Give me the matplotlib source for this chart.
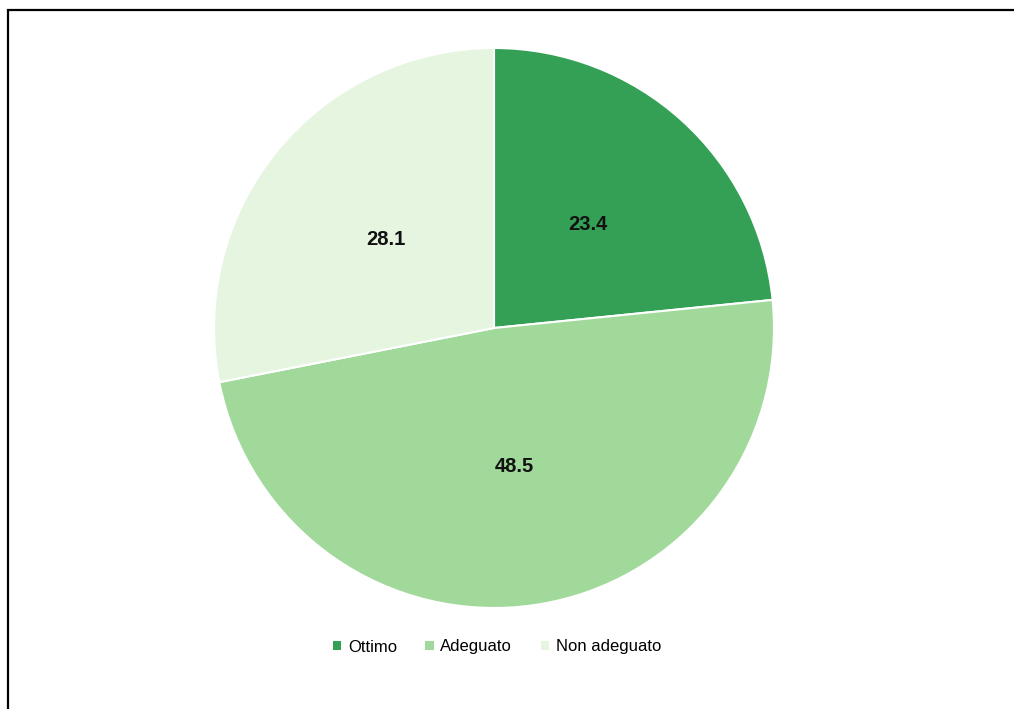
import matplotlib
matplotlib.use("Agg")
import matplotlib.pyplot as plt
from matplotlib.patches import Rectangle, Patch

categorie = ["Ottimo", "Adeguato", "Non adeguato"]
valori = [23.4, 48.5, 28.1]
colori = ["#33a055", "#a1d99b", "#e5f5e0"]

plt.rcParams['font.family'] = ['Liberation Sans Narrow', 'Liberation Sans', 'DejaVu Sans']

fig = plt.figure(figsize=(10.14, 7.09), dpi=100)
fig.patch.set_facecolor("white")

# cornice nera del riquadro
fig.add_artist(Rectangle((8 / 1014, -0.05), 1.1, (709 - 10) / 709 + 0.05,
                         transform=fig.transFigure, fill=False,
                         edgecolor="black", linewidth=1.6))

ax = fig.add_axes([(494 - 280) / 1014, (709 - 328 - 280) / 709, 560 / 1014, 560 / 709])
wedges, testi = ax.pie(valori, colors=colori, startangle=90, counterclock=False,
                       labels=[f"{v:.1f}" for v in valori], labeldistance=0.5,
                       wedgeprops=dict(edgecolor="white", linewidth=1.5),
                       textprops=dict(fontsize=14.5, fontweight="bold", color="#111111"))
for t in testi:
    t.set_horizontalalignment("center")
    t.set_verticalalignment("center")
ax.set_aspect("equal")
ax.set_xlim(-1, 1)
ax.set_ylim(-1, 1)

maniglie = [Patch(facecolor=c, edgecolor="none") for c in colori]
fig.legend(maniglie, categorie, loc="center", bbox_to_anchor=(497 / 1014, 1 - 647 / 709),
           ncol=3, frameon=False, fontsize=12, handlelength=0.5, handleheight=0.5,
           handletextpad=0.4, columnspacing=1.7)

fig.savefig("out.png", dpi=100)
